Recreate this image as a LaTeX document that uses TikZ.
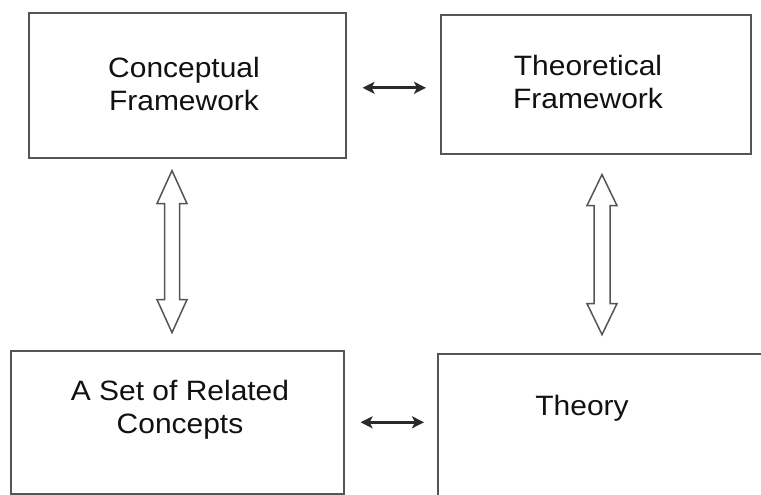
\documentclass[tikz,border=0pt]{standalone}
\usepackage{fontspec}
\setmainfont[FakeStretch=1.07]{Liberation Sans}
\usetikzlibrary{arrows.meta,calc}
\definecolor{boxline}{HTML}{555555}
\definecolor{arrline}{HTML}{2A2A2A}
\definecolor{txt}{HTML}{111111}
\tikzset{
  box/.style={draw=boxline, line width=1.6pt, fill=white, inner sep=0pt},
  lbl/.style={align=center, text=txt, font=\fontsize{28}{33}\selectfont, inner sep=0pt},
  conn/.style={draw=arrline, line width=2.6pt, {Stealth[length=12pt,width=12pt,inset=3pt]}-{Stealth[length=12pt,width=12pt,inset=3pt]}},
  hollow/.style={draw=boxline, line width=1.5pt, fill=white, line join=miter}
}
\begin{document}
\begin{tikzpicture}[x=1pt,y=-1pt]
\useasboundingbox (0,0) rectangle (761,495);
\clip (0,0) rectangle (761,495);
% boxes
\node[box, minimum width=317pt, minimum height=145pt, anchor=north west] (cf) at (28,12) {};
\node[box, minimum width=310pt, minimum height=139pt, anchor=north west] (tf) at (440,14) {};
\node[box, minimum width=333pt, minimum height=143pt, anchor=north west] (sc) at (10,350) {};
\node[box, minimum width=340pt, minimum height=150pt, anchor=north west] (th) at (437,353) {};
% texts
\node[lbl] (cft) at (184,84) {Conceptual\\Framework};
\node[lbl] (tft) at (588,82) {Theoretical\\Framework};
\node[lbl] (sct) at (180,410) {A Set of Related\\Concepts};
\node[lbl] (tht) at (582,408) {Theory};
% horizontal arrows
\coordinate (h1) at ([shift={(16,2.5)}]cf.east);
\draw[conn, shorten >=14pt] (h1) -- (h1 -| tf.west);
\coordinate (h2) at ([shift={(16,0)}]sc.east);
\draw[conn, shorten >=13pt] (h2) -- (h2 -| th.west);
% vertical hollow double arrows
\coordinate (v1) at ($(cf.south west)+(144,12)$);
\draw[hollow] (v1) -- ++(15,33) -- ++(-7.5,0) -- ++(0,96) -- ++(7.5,0) -- ++(-15,33)
  -- ++(-15,-33) -- ++(7.5,0) -- ++(0,-96) -- ++(-7.5,0) -- cycle;
\coordinate (v2) at ($(tf.south west)+(162,20)$);
\draw[hollow] (v2) -- ++(15,31) -- ++(-7,0) -- ++(0,98) -- ++(7,0) -- ++(-15,31)
  -- ++(-15,-31) -- ++(7,0) -- ++(0,-98) -- ++(-7,0) -- cycle;
\end{tikzpicture}
\end{document}
